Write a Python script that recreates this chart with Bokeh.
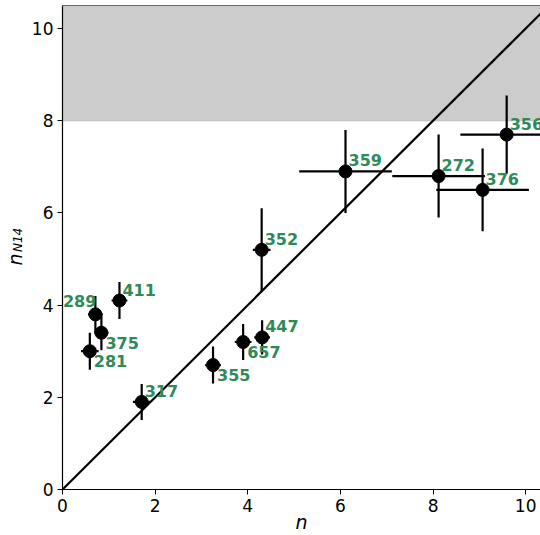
from bokeh.plotting import figure
from bokeh.models import ColumnDataSource, BoxAnnotation, Span, Range1d, FixedTicker, LinearAxis
from bokeh.core.properties import value
from bokeh.embed import file_html
from bokeh.resources import INLINE

# Measured multiplicities per source
names = ["289", "375", "281", "411", "317", "355", "657", "447", "352", "359", "272", "376", "356"]
n = [0.71, 0.84, 0.59, 1.23, 1.71, 3.25, 3.90, 4.31, 4.30, 6.11, 8.12, 9.07, 9.59]
n_N14 = [3.8, 3.4, 3.0, 4.1, 1.9, 2.7, 3.2, 3.3, 5.2, 6.9, 6.8, 6.5, 7.7]
n_err = [0.16, 0.15, 0.19, 0.17, 0.19, 0.17, 0.18, 0.17, 0.19, 1.0, 1.0, 1.0, 1.0]
n_N14_err = [0.4, 0.38, 0.4, 0.4, 0.39, 0.4, 0.39, 0.37, 0.9, 0.9, 0.9, 0.9, 0.85]

# One-to-one reference line and excluded region
ref_x = [0, 11]
ref_y = [0, 11]
excluded_from = 8

ticks = [0, 2, 4, 6, 8, 10]

# Where each name sits relative to its point
below_right = {"375", "281", "355", "657"}
left_side = {"289"}

GREEN = "#2e8b57"
FONT = "DejaVu Sans"
NBSP = "\u00a0"

p = figure(width=540, height=535, output_backend="svg", toolbar_location=None,
           x_range=Range1d(0, 10.32), y_range=Range1d(0, 10.5),
           min_border_left=62, min_border_right=0, min_border_top=5, min_border_bottom=46)
p.outline_line_color = None
p.grid.visible = False
p.background_fill_color = "white"

p.add_layout(BoxAnnotation(bottom=excluded_from, fill_color="#cccccc", fill_alpha=1.0,
                           line_color="#bbbbbb", line_alpha=1.0, line_width=1, level="underlay"))
p.add_layout(Span(location=10.5, dimension="width", line_color="black", line_width=1.2, level="overlay"))

p.line(ref_x, ref_y, line_color="black", line_width=2.2)

src = ColumnDataSource(dict(
    n=n, nN=n_N14,
    x0=[a - e for a, e in zip(n, n_err)], x1=[a + e for a, e in zip(n, n_err)],
    y0=[a - e for a, e in zip(n_N14, n_N14_err)], y1=[a + e for a, e in zip(n_N14, n_N14_err)],
))
p.segment(x0="x0", y0="nN", x1="x1", y1="nN", source=src, line_color="black", line_width=2.2)
p.segment(x0="n", y0="y0", x1="n", y1="y1", source=src, line_color="black", line_width=2.2)
p.scatter(x="n", y="nN", source=src, size=13, fill_color="black", line_color="black")

groups = {"ur": dict(x=[], y=[], t=[]), "lr": dict(x=[], y=[], t=[]), "ul": dict(x=[], y=[], t=[])}
for name, xv, yv in zip(names, n, n_N14):
    key = "lr" if name in below_right else ("ul" if name in left_side else "ur")
    groups[key]["x"].append(xv)
    groups[key]["y"].append(yv)
    groups[key]["t"].append(name)

label_style = dict(text_color=GREEN, text_font=value(FONT), text_font_style="bold",
                   text_font_size="16px", text_baseline="alphabetic")
p.text(x=groups["ur"]["x"], y=groups["ur"]["y"], text=groups["ur"]["t"],
       x_offset=3, y_offset=-11, text_align="left", **label_style)
p.text(x=groups["lr"]["x"], y=groups["lr"]["y"], text=groups["lr"]["t"],
       x_offset=4, y_offset=10, text_align="left", **label_style)
p.text(x=groups["ul"]["x"], y=groups["ul"]["y"], text=groups["ul"]["t"],
       x_offset=1, y_offset=-13, text_align="right", **label_style)

# Outer left axis only carries the main symbol of the y title
outer = LinearAxis(ticker=FixedTicker(ticks=[]))
p.add_layout(outer, "left")

for ax in (p.xaxis[0], p.yaxis[0]):
    ax.ticker = FixedTicker(ticks=ticks)
    ax.minor_tick_line_color = None
    ax.major_tick_in = 0
    ax.major_tick_out = 5
    ax.major_tick_line_color = "black"
    ax.axis_line_color = "black"
    ax.axis_line_width = 1.2
    ax.major_label_text_font = FONT
    ax.major_label_text_font_size = "17px"
    ax.major_label_text_color = "black"
    ax.major_label_standoff = 4
    ax.axis_label_text_font = FONT
    ax.axis_label_text_font_style = "italic"
    ax.axis_label_text_color = "black"

p.xaxis[0].axis_label = "n"
p.xaxis[0].axis_label_text_font_size = "19px"
p.xaxis[0].axis_label_standoff = -4

# Subscript sits on the inner axis, the symbol itself on the outer one
p.yaxis[0].axis_label = NBSP * 4 + "N14"
p.yaxis[0].axis_label_text_font_size = "12px"
p.yaxis[0].axis_label_standoff = 4

outer.axis_line_color = None
outer.major_tick_out = 0
outer.major_tick_in = 0
outer.minor_tick_line_color = None
outer.major_label_standoff = 0
outer.axis_label = "n" + NBSP * 4
outer.axis_label_text_font = FONT
outer.axis_label_text_font_style = "italic"
outer.axis_label_text_font_size = "19px"
outer.axis_label_text_color = "black"
outer.axis_label_standoff = -18

open("out.html", "w").write(file_html(p, INLINE))
